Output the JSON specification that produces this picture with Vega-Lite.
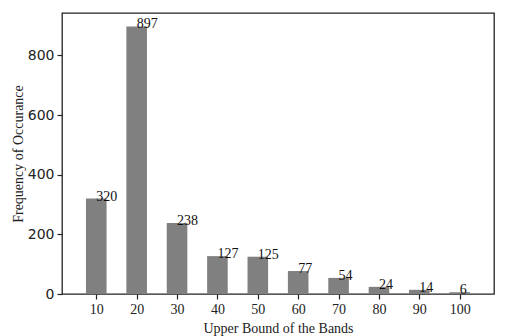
{
  "$schema": "https://vega.github.io/schema/vega-lite/v6.json",
  "autosize": "none",
  "padding": {"left": 62, "top": 13, "right": 14, "bottom": 42},
  "width": 432,
  "height": 281,
  "background": "white",
  "config": {
    "view": {"stroke": "#222222", "strokeWidth": 1.3},
    "axis": {"grid": false, "domain": false, "tickColor": "#222222", "tickSize": 5, "tickWidth": 1.2, "labelColor": "#222222", "titleColor": "#222222", "titleFontWeight": "normal"}
  },
  "data": {
    "values": [
      {"band": 10, "count": 320},
      {"band": 20, "count": 897},
      {"band": 30, "count": 238},
      {"band": 40, "count": 127},
      {"band": 50, "count": 125},
      {"band": 60, "count": 77},
      {"band": 70, "count": 54},
      {"band": 80, "count": 24},
      {"band": 90, "count": 14},
      {"band": 100, "count": 6}
    ]
  },
  "encoding": {
    "x": {
      "field": "band", "type": "quantitative",
      "scale": {"domain": [2.75, 107.25], "nice": false, "zero": false},
      "axis": {"values": [10, 20, 30, 40, 50, 60, 70, 80, 90, 100], "title": "Upper Bound of the Bands", "labelFont": "Liberation Serif", "labelFontSize": 14, "labelPadding": 3, "titleFont": "Liberation Serif", "titleFontSize": 14, "titlePadding": 5}
    },
    "y": {
      "field": "count", "type": "quantitative",
      "scale": {"domain": [0, 942], "nice": false},
      "axis": {"values": [0, 200, 400, 600, 800], "title": "Frequency of Occurance", "labelFont": "DejaVu Sans", "labelFontSize": 14, "labelPadding": 3, "titleFont": "Liberation Serif", "titleFontSize": 14, "titlePadding": 2}
    }
  },
  "layer": [
    {"mark": {"type": "bar", "size": 20.6, "color": "#808080"}},
    {"mark": {"type": "text", "align": "left", "baseline": "alphabetic", "dy": 2, "font": "Liberation Serif", "fontSize": 14, "color": "#111111"}, "encoding": {"text": {"field": "count", "type": "quantitative"}}}
  ]
}
